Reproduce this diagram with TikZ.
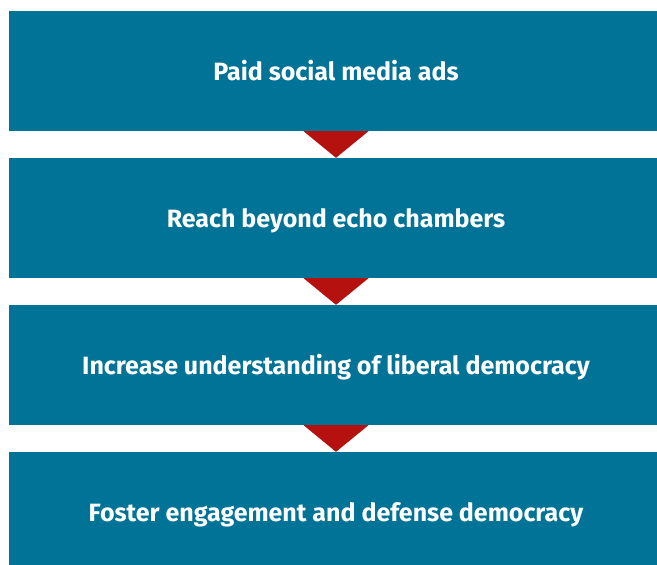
\documentclass[tikz,border=0pt]{standalone}
\usepackage{fontspec}
\setmainfont{Fira Sans}
\usepackage{xcolor}
\usepackage{tikz}
\usetikzlibrary{positioning}

\definecolor{stepteal}{HTML}{007396}
\definecolor{arrowred}{HTML}{B5120F}

\begin{document}
\begin{tikzpicture}[
    x=1pt, y=-1pt,
    stage/.style={rectangle, fill=stepteal, text=white, minimum width=654pt, minimum height=120pt, inner sep=0pt, text height=22pt, text depth=4pt, font=\fontsize{25}{30}\selectfont\bfseries},
    tri/.style={fill=arrowred}
]
\useasboundingbox (0,0) rectangle (657,565);

%% ── Stages (pitch 147pt) ─────────────────────────────────────────────
\node[stage] (ads)     at (336, 71)  {Paid social media ads};
\node[stage] (reach)   at (336, 218) {Reach beyond echo chambers};
\node[stage] (learn)   at (336, 365) {Increase understanding of liberal democracy};
\node[stage] (foster)  at (336, 512) {Foster engagement and defense democracy};

%% ── Red down-pointing triangles ──────────────────────────────────────
\fill[tri] ([xshift=-32.5pt]ads.south)   -- ([xshift=32.5pt]ads.south)   -- (reach.north)  -- cycle;
\fill[tri] ([xshift=-32.5pt]reach.south) -- ([xshift=32.5pt]reach.south) -- (learn.north)  -- cycle;
\fill[tri] ([xshift=-32.5pt]learn.south) -- ([xshift=32.5pt]learn.south) -- (foster.north) -- cycle;

\end{tikzpicture}
\end{document}
